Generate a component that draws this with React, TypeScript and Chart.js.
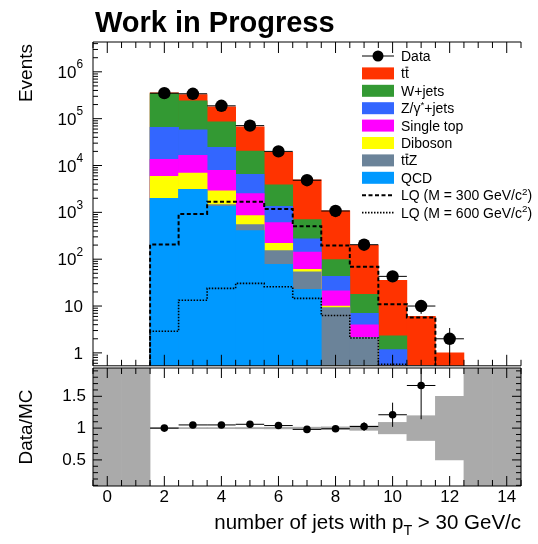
import React, { useEffect, useRef } from "react";
import { Chart, registerables } from "chart.js";

Chart.register(...registerables);

const FONT = '"Liberation Sans", Arial, Helvetica, sans-serif';

// ---------- binning / axis ranges ----------
const nJets = [0, 1, 2, 3, 4, 5, 6, 7, 8, 9, 10, 11, 12, 13, 14];
const X_MIN = -0.5;
const X_MAX = 14.5;
const Y_MIN = 0.53;
const Y_MAX = 4.33e6;
const R_MIN = 0.09;
const R_MAX = 1.945;

// ---------- observed events ----------
const dataEvents = [null, null, 350000, 340000, 188000, 71000, 20000, 4850, 1070, 204, 43, 10, 2, null, null];
const dataErr = [0, 0, 590, 580, 430, 270, 140, 70, 33, 14, 6.6, 3.2, 1.4, 0, 0];

// ---------- expected events per process ----------
const qcd = [0, 0, 2000, 3090, 1350, 409, 78, 22.7, 0, 0, 0, 0, 0, 0, 0];
const ttZ = [0, 0, 0, 0, 110, 141, 74, 31, 9.3, 2.15, 0.4, 0.2, 0, 0, 0];
const diboson = [0, 0, 3900, 3800, 1420, 301, 65, 7, 0.7, 0, 0, 0, 0, 0, 0];
const singleTop = [0, 0, 7600, 9700, 5020, 1650, 388, 82, 11, 1.8, 0, 0, 0, 0, 0];
const zJets = [0, 0, 51500, 41400, 16400, 4000, 745, 130, 22, 3.0, 0.77, 0, 0, 0, 0];
const wJets = [0, 0, 280000, 182000, 61700, 13800, 2510, 427, 55, 10.8, 1.13, 0.2, 0, 0, 0];
const ttbar = [0, 0, 10000, 85000, 93000, 46700, 15340, 4250, 982, 181, 33.2, 5.6, 1.0, 0, 0];

// ---------- leptoquark signal hypotheses ----------
const lq300 = [0, 0, 207, 925, 1690, 1690, 1180, 507, 197, 69, 10.9, 5.7, 0, 0, 0];
const lq600 = [0, 0, 2.9, 13.3, 23.8, 30.4, 25.9, 14.6, 6.3, 2.08, 0.57, 0, 0, 0, 0];

// ---------- Data / MC ----------
const ratio = [null, null, 1.0, 1.05, 1.05, 1.06, 1.04, 0.98, 0.99, 1.025, 1.21, 1.67, null, null, null];
const ratioErr = [0, 0, 0.002, 0.002, 0.003, 0.004, 0.008, 0.015, 0.03, 0.07, 0.19, 0.53, 0, 0, 0];
// relative MC statistical uncertainty (null: no prediction in the bin)
const mcRelErr = [null, null, 0.008, 0.008, 0.008, 0.01, 0.012, 0.015, 0.02, 0.035, 0.09, 0.195, 0.5, null, null];

// ---------- tick labels ----------
const xLabelValues = [0, 2, 4, 6, 8, 10, 12, 14];
const ratioLabelValues = [0.5, 1, 1.5];
const logLabelDecades = [0, 1, 2, 3, 4, 5, 6];

type Seg = { t: string; sup?: boolean; sub?: boolean; bar?: boolean };

const COLORS = {
  ttbar: "#ff3300",
  wjets: "#339933",
  zjets: "#3366ff",
  stop: "#ff00ff",
  diboson: "#ffff00",
  ttz: "#6b8399",
  qcd: "#0099ff",
};

// stacking order, bottom to top
const stack = [
  { name: "QCD", values: qcd, color: COLORS.qcd, legend: [{ t: "QCD" }] as Seg[] },
  { name: "ttZ", values: ttZ, color: COLORS.ttz, legend: [{ t: "t" }, { t: "t", bar: true }, { t: "Z" }] as Seg[] },
  { name: "Diboson", values: diboson, color: COLORS.diboson, legend: [{ t: "Diboson" }] as Seg[] },
  { name: "Single top", values: singleTop, color: COLORS.stop, legend: [{ t: "Single top" }] as Seg[] },
  { name: "Z/γ*+jets", values: zJets, color: COLORS.zjets, legend: [{ t: "Z/γ" }, { t: "*", sup: true }, { t: "+jets" }] as Seg[] },
  { name: "W+jets", values: wJets, color: COLORS.wjets, legend: [{ t: "W+jets" }] as Seg[] },
  { name: "tt̄", values: ttbar, color: COLORS.ttbar, legend: [{ t: "t" }, { t: "t", bar: true }] as Seg[] },
];

const signals = [
  { name: "LQ (M = 300 GeV/c²)", values: lq300, dash: [4, 2.5], width: 2, legend: [{ t: "LQ (M = 300 GeV/c" }, { t: "2", sup: true }, { t: ")" }] as Seg[] },
  { name: "LQ (M = 600 GeV/c²)", values: lq600, dash: [1.5, 1.5], width: 1.6, legend: [{ t: "LQ (M = 600 GeV/c" }, { t: "2", sup: true }, { t: ")" }] as Seg[] },
];

// cumulative sums for the stacked histogram
const cumulative = stack.map((_, k) =>
  nJets.map((_, i) => stack.slice(0, k + 1).reduce((s, p) => s + p.values[i], 0))
);

// bin outline for a histogram drawn as a line (bins have unit width)
function histOutline(values: number[]) {
  const pts: { x: number; y: number }[] = [];
  nJets.forEach((n, i) => {
    const v = values[i] > 0 ? values[i] : Y_MIN / 10;
    pts.push({ x: n - 0.5, y: v }, { x: n + 0.5, y: v });
  });
  return pts;
}

function drawRich(ctx: CanvasRenderingContext2D, segs: Seg[], x: number, y: number, size: number, align: "left" | "right" | "center", supRise = 0.4) {
  const small = size * 0.7;
  const widths = segs.map((s) => {
    ctx.font = `${s.sup || s.sub ? small : size}px ${FONT}`;
    return ctx.measureText(s.t).width;
  });
  const total = widths.reduce((a, b) => a + b, 0);
  let cx = align === "left" ? x : align === "right" ? x - total : x - total / 2;
  ctx.textAlign = "left";
  ctx.textBaseline = "alphabetic";
  segs.forEach((s, i) => {
    const fs = s.sup || s.sub ? small : size;
    ctx.font = `${fs}px ${FONT}`;
    const dy = s.sup ? -size * supRise : s.sub ? size * 0.28 : 0;
    ctx.fillText(s.t, cx, y + dy);
    if (s.bar) {
      ctx.save();
      ctx.lineWidth = Math.max(1, size * 0.07);
      ctx.beginPath();
      ctx.moveTo(cx + 0.5, y - size * 0.8);
      ctx.lineTo(cx + widths[i] - 0.5, y - size * 0.8);
      ctx.stroke();
      ctx.restore();
    }
    cx += widths[i];
  });
}

// error bars for datasets carrying an `errors` array
const errorBars = {
  id: "errorBars",
  afterDatasetsDraw(chart: any) {
    const { ctx, chartArea: a } = chart;
    const xs = chart.scales.x;
    const ys = chart.scales.y;
    ctx.save();
    ctx.beginPath();
    ctx.rect(a.left, a.top, a.right - a.left, a.bottom - a.top);
    ctx.clip();
    ctx.strokeStyle = "#000";
    ctx.lineWidth = 1;
    chart.data.datasets.forEach((ds: any) => {
      if (!ds.errors) return;
      ds.data.forEach((p: any, i: number) => {
        if (p.y == null) return;
        const e = ds.errors[i];
        const floor = ys.type === "logarithmic" ? Y_MIN / 10 : -10;
        const yTop = ys.getPixelForValue(p.y + e);
        const yBot = ys.getPixelForValue(Math.max(p.y - e, floor));
        const yc = ys.getPixelForValue(p.y);
        const xc = xs.getPixelForValue(p.x);
        ctx.beginPath();
        ctx.moveTo(xs.getPixelForValue(p.x - 0.5), yc);
        ctx.lineTo(xs.getPixelForValue(p.x + 0.5), yc);
        ctx.moveTo(xc, yTop);
        ctx.lineTo(xc, yBot);
        ctx.stroke();
      });
    });
    ctx.restore();
  },
};

function xTicks(ctx: CanvasRenderingContext2D, xs: any, a: any, major: number, minor: number) {
  for (let k = 0; X_MIN + 0.5 * k <= X_MAX + 1e-9; k++) {
    const v = X_MIN + 0.5 * k;
    const px = xs.getPixelForValue(v);
    const isMajor = Math.abs(v / 2 - Math.round(v / 2)) < 1e-9;
    const len = isMajor ? major : minor;
    ctx.moveTo(px, a.top);
    ctx.lineTo(px, a.top + len);
    ctx.moveTo(px, a.bottom);
    ctx.lineTo(px, a.bottom - len);
  }
}

const upperDecor = {
  id: "upperDecor",
  afterDraw(chart: any) {
    const { ctx, chartArea: a } = chart;
    const xs = chart.scales.x;
    const ys = chart.scales.y;
    ctx.save();
    ctx.strokeStyle = "#000";
    ctx.fillStyle = "#000";
    ctx.lineWidth = 1;
    ctx.beginPath();
    ctx.moveTo(a.left, a.bottom);
    ctx.lineTo(a.left, a.top);
    ctx.lineTo(a.right, a.top);
    ctx.moveTo(a.left, a.bottom);
    ctx.lineTo(a.right, a.bottom);
    xTicks(ctx, xs, a, 11, 6);
    for (let d = -1; d <= 7; d++) {
      for (let m = 1; m <= 9; m++) {
        const v = m * Math.pow(10, d);
        if (v < Y_MIN || v > Y_MAX) continue;
        const py = ys.getPixelForValue(v);
        ctx.moveTo(a.left, py);
        ctx.lineTo(a.left + (m === 1 ? 9 : 5), py);
      }
    }
    ctx.stroke();

    // log axis labels
    logLabelDecades.forEach((d) => {
      const py = ys.getPixelForValue(Math.pow(10, d));
      const base = py + 6;
      const segs: Seg[] = d === 0 ? [{ t: "1" }] : d === 1 ? [{ t: "10" }] : [{ t: "10" }, { t: String(d), sup: true }];
      drawRich(ctx, segs, a.left - 10, base, 17, "right", 0.55);
    });

    // title and axis title
    ctx.font = `bold 29px ${FONT}`;
    ctx.textAlign = "left";
    ctx.textBaseline = "alphabetic";
    ctx.fillText("Work in Progress", 95, 32);

    ctx.save();
    ctx.translate(32, a.top + 2);
    ctx.rotate(-Math.PI / 2);
    ctx.font = `19px ${FONT}`;
    ctx.textAlign = "right";
    ctx.fillText("Events", 0, 0);
    ctx.restore();

    // legend
    const lx0 = 362;
    const lx1 = 394;
    const tx = 401;
    let ly = 56;
    const step = 17.4;
    const row = (draw: () => void, segs: Seg[]) => {
      draw();
      ctx.fillStyle = "#000";
      drawRich(ctx, segs, tx, ly + 5, 14, "left");
      ly += step;
    };
    row(() => {
      ctx.beginPath();
      ctx.strokeStyle = "#000";
      ctx.lineWidth = 1;
      ctx.moveTo(lx0, ly);
      ctx.lineTo(lx1, ly);
      ctx.stroke();
      ctx.beginPath();
      ctx.arc((lx0 + lx1) / 2, ly, 5.5, 0, Math.PI * 2);
      ctx.fill();
    }, [{ t: "Data" }]);
    [...stack].reverse().forEach((p) => {
      row(() => {
        ctx.fillStyle = p.color;
        ctx.fillRect(lx0, ly - 6, lx1 - lx0, 12);
      }, p.legend);
    });
    signals.forEach((s) => {
      row(() => {
        ctx.save();
        ctx.strokeStyle = "#000";
        ctx.lineWidth = s.width;
        ctx.setLineDash(s.dash);
        ctx.beginPath();
        ctx.moveTo(lx0, ly);
        ctx.lineTo(lx1, ly);
        ctx.stroke();
        ctx.restore();
      }, s.legend);
    });
    ctx.restore();
  },
};

const lowerDecor = {
  id: "lowerDecor",
  afterDraw(chart: any) {
    const { ctx, chartArea: a } = chart;
    const xs = chart.scales.x;
    const ys = chart.scales.y;
    ctx.save();
    ctx.strokeStyle = "#000";
    ctx.fillStyle = "#000";
    ctx.lineWidth = 1;
    ctx.beginPath();
    ctx.rect(a.left, a.top, a.right - a.left, a.bottom - a.top);
    xTicks(ctx, xs, a, 10, 6);
    for (let k = 1; k * 0.1 < R_MAX; k++) {
      const v = k * 0.1;
      if (v < R_MIN) continue;
      const py = ys.getPixelForValue(v);
      const len = k % 5 === 0 ? 9 : 5;
      ctx.moveTo(a.left, py);
      ctx.lineTo(a.left + len, py);
      ctx.moveTo(a.right, py);
      ctx.lineTo(a.right - len, py);
    }
    ctx.stroke();

    ctx.font = `17px ${FONT}`;
    ctx.textBaseline = "middle";
    ctx.textAlign = "right";
    ratioLabelValues.forEach((v) => ctx.fillText(String(v), a.left - 7, ys.getPixelForValue(v)));
    ctx.textAlign = "center";
    xLabelValues.forEach((v) => ctx.fillText(String(v), xs.getPixelForValue(v), a.bottom + 11));

    ctx.save();
    ctx.translate(32, (a.top + a.bottom) / 2);
    ctx.rotate(-Math.PI / 2);
    ctx.font = `19px ${FONT}`;
    ctx.textAlign = "center";
    ctx.textBaseline = "alphabetic";
    ctx.fillText("Data/MC", 0, 0);
    ctx.restore();

    drawRich(ctx, [{ t: "number of jets with p" }, { t: "T", sub: true }, { t: " > 30 GeV/c" }], 521, a.bottom + 43, 20.5, "right");
    ctx.restore();
  },
};

const barCommon = {
  type: "bar" as const,
  grouped: false,
  barPercentage: 1,
  categoryPercentage: 1,
  borderWidth: 0,
};

export default function App() {
  const topRef = useRef<HTMLCanvasElement>(null);
  const botRef = useRef<HTMLCanvasElement>(null);

  useEffect(() => {
    const stackSets = stack.map((p, k) => ({
      ...barCommon,
      label: p.name,
      backgroundColor: p.color,
      order: k + 1,
      data: nJets.map((n, i) => ({ x: n, y: cumulative[k][i] > 0 ? cumulative[k][i] : null })),
    }));
    const signalSets = signals.map((s) => ({
      type: "line" as const,
      label: s.name,
      data: histOutline(s.values),
      borderColor: "#000",
      borderWidth: s.width,
      borderDash: s.dash,
      pointRadius: 0,
      fill: false,
      tension: 0,
      order: 0,
    }));
    const dataSet = {
      type: "line" as const,
      label: "Data",
      data: nJets.map((n, i) => ({ x: n, y: dataEvents[i] })),
      errors: dataErr,
      showLine: false,
      pointRadius: 6.2,
      pointBackgroundColor: "#000",
      pointBorderWidth: 0,
      order: -1,
    };

    const top = new Chart(topRef.current as HTMLCanvasElement, {
      type: "bar",
      data: { datasets: [...stackSets, ...signalSets, dataSet] as any },
      options: {
        responsive: false,
        animation: false,
        events: [],
        layout: { padding: { left: 93, right: 17, top: 42, bottom: 4 } },
        plugins: { legend: { display: false }, tooltip: { enabled: false } },
        scales: {
          x: { type: "linear", min: X_MIN, max: X_MAX, display: false, offset: false },
          y: { type: "logarithmic", min: Y_MIN, max: Y_MAX, display: false },
        },
      } as any,
      plugins: [errorBars, upperDecor],
    });

    const bandSet = {
      ...barCommon,
      label: "MC stat.",
      backgroundColor: "#aaaaaa",
      order: 2,
      data: nJets.map((n, i) => ({
        x: n,
        y: mcRelErr[i] == null ? [R_MIN, R_MAX] : [1 - (mcRelErr[i] as number), 1 + (mcRelErr[i] as number)],
      })),
    };
    const ratioSet = {
      type: "line" as const,
      label: "Data/MC",
      data: nJets.map((n, i) => ({ x: n, y: ratio[i] })),
      errors: ratioErr,
      showLine: false,
      pointRadius: 3.8,
      pointBackgroundColor: "#000",
      pointBorderWidth: 0,
      order: 1,
    };

    const bot = new Chart(botRef.current as HTMLCanvasElement, {
      type: "bar",
      data: { datasets: [bandSet, ratioSet] as any },
      options: {
        responsive: false,
        animation: false,
        events: [],
        layout: { padding: { left: 93, right: 17, top: 4, bottom: 58 } },
        plugins: { legend: { display: false }, tooltip: { enabled: false } },
        scales: {
          x: { type: "linear", min: X_MIN, max: X_MAX, display: false, offset: false },
          y: { type: "linear", min: R_MIN, max: R_MAX, display: false },
        },
      } as any,
      plugins: [errorBars, lowerDecor],
    });

    return () => {
      top.destroy();
      bot.destroy();
    };
  }, []);

  return (
    <div style={{ position: "absolute", left: 0, top: 0, width: 538, height: 544, background: "#fff" }}>
      <canvas ref={topRef} width={538} height={372} style={{ position: "absolute", left: 0, top: 0 }} />
      <canvas ref={botRef} width={538} height={180} style={{ position: "absolute", left: 0, top: 364 }} />
    </div>
  );
}
